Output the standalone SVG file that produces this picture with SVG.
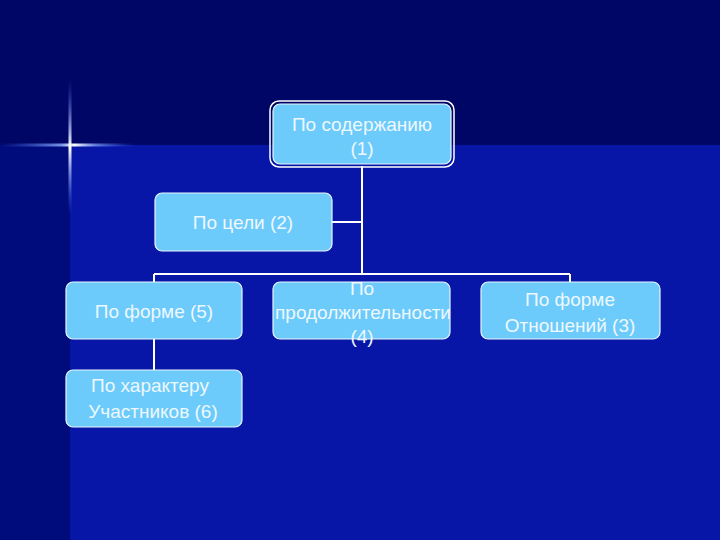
<svg xmlns="http://www.w3.org/2000/svg" width="720" height="540" viewBox="0 0 720 540">
<defs>
<linearGradient id="hstar" x1="0" y1="0" x2="1" y2="0">
<stop offset="0" stop-color="#3a6cff" stop-opacity="0"/>
<stop offset="0.45" stop-color="#8fb0ff" stop-opacity="0.8"/>
<stop offset="0.55" stop-color="#ffffff" stop-opacity="1"/>
<stop offset="0.7" stop-color="#8fb0ff" stop-opacity="0.7"/>
<stop offset="1" stop-color="#3a6cff" stop-opacity="0"/>
</linearGradient>
<linearGradient id="vstar" x1="0" y1="0" x2="0" y2="1">
<stop offset="0" stop-color="#3a6cff" stop-opacity="0"/>
<stop offset="0.5" stop-color="#ffffff" stop-opacity="1"/>
<stop offset="1" stop-color="#3a6cff" stop-opacity="0"/>
</linearGradient>
<style>
.box{fill:#6ccbfa;stroke:#eaf6ff;stroke-width:1.2}
.t{font-family:"Liberation Sans",Arial,sans-serif;font-size:19px;fill:#eef8ff;text-anchor:middle}
.c{stroke:#ffffff;stroke-width:2;fill:none}
</style>
</defs>
<rect width="720" height="540" fill="#000a78"/>
<rect x="70" y="145" width="650" height="395" fill="#0716a6"/>
<rect x="0" y="0" width="720" height="145" fill="#000666"/>
<rect x="0" y="145" width="70" height="395" fill="#000c7c"/>
<g id="star">
<rect x="0" y="143.5" width="135" height="3" fill="url(#hstar)"/>
<rect x="68.5" y="80" width="3" height="135" fill="url(#vstar)"/>
</g>
<g id="connectors">
<path class="c" d="M362 166V274M332 222H362M154 274H570M154 274V282M570 274V282M154 339V370"/>
</g>
<g id="n1">
<rect x="270" y="101" width="184" height="66" rx="9" fill="none" stroke="#ffffff" stroke-width="1.5"/>
<rect class="box" x="273" y="104" width="178" height="60" rx="7"/>
<text class="t" x="362" y="131">По содержанию</text>
<text class="t" x="362" y="155">(1)</text>
</g>
<g id="n2">
<rect class="box" x="155" y="193" width="177" height="58" rx="7"/>
<text class="t" x="243" y="229">По цели (2)</text>
</g>
<g id="n5">
<rect class="box" x="66" y="282" width="176" height="57" rx="7"/>
<text class="t" x="154" y="318">По форме (5)</text>
</g>
<g id="n4">
<rect class="box" x="273" y="282" width="177" height="57" rx="7"/>
<text class="t" x="362" y="295">По</text>
<text class="t" x="363" y="319">продолжительности</text>
<text class="t" x="362" y="343">(4)</text>
</g>
<g id="n3">
<rect class="box" x="481" y="282" width="179" height="57" rx="7"/>
<text class="t" x="570" y="306">По форме</text>
<text class="t" x="570" y="332">Отношений (3)</text>
</g>
<g id="n6">
<rect class="box" x="66" y="370" width="176" height="57" rx="7"/>
<text class="t" x="150" y="392">По характеру</text>
<text class="t" x="153" y="418">Участников (6)</text>
</g>
</svg>
